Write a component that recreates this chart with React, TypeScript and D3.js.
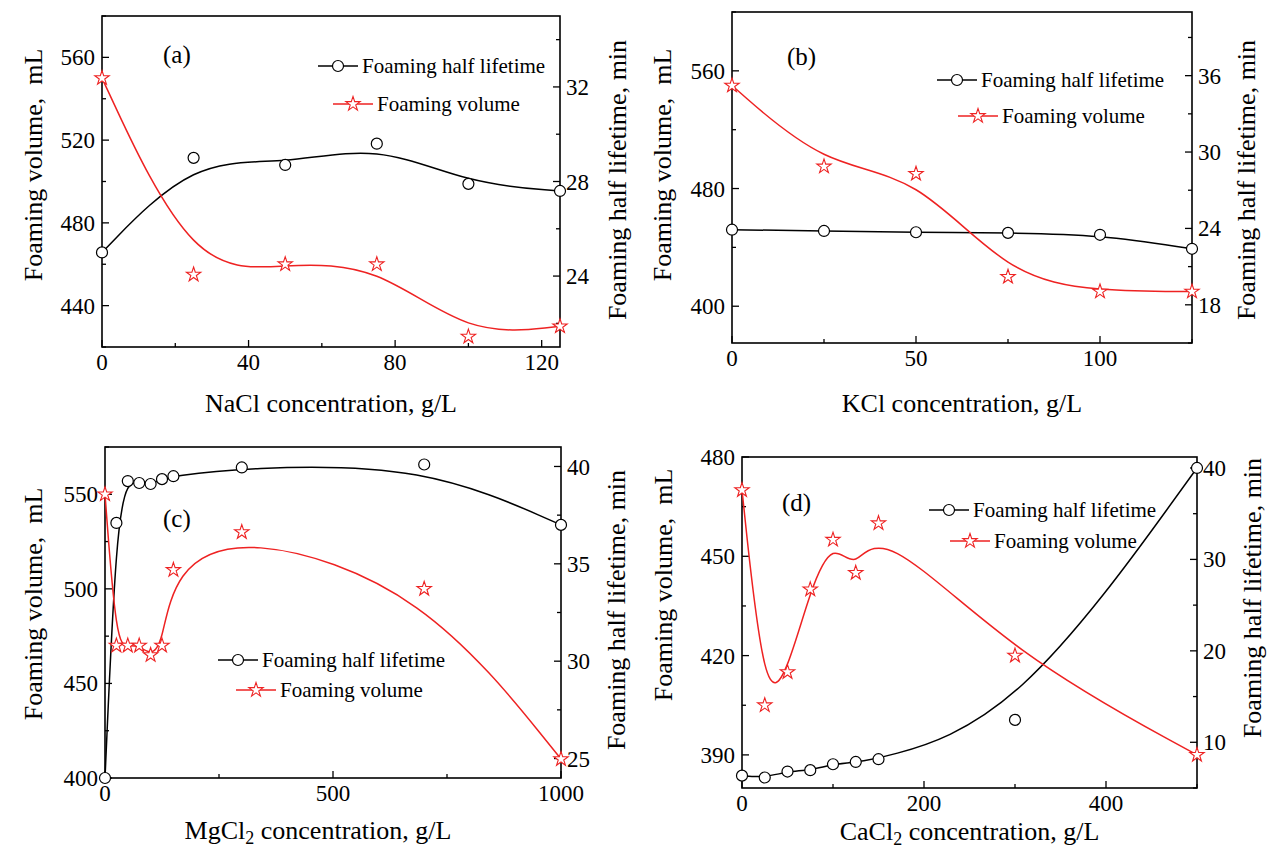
import React from 'react';
import * as d3 from 'd3';

// concentrations (g/L), half lifetime (min), foaming volume (mL)
const naclConc = [0, 25, 50, 75, 100, 125];
const naclHalfLife = [25.0, 29.0, 28.7, 29.6, 27.9, 27.6];
const naclVolume = [550, 455, 460, 460, 425, 430];

const kclConc = [0, 25, 50, 75, 100, 125];
const kclHalfLife = [23.9, 23.8, 23.7, 23.65, 23.5, 22.4];
const kclVolume = [550, 495, 490, 420, 410, 410];

const mgclConc = [0, 25, 50, 75, 100, 125, 150, 300, 700, 1000];
const mgclHalfLife = [24, 37.1, 39.25, 39.15, 39.1, 39.35, 39.5, 39.95, 40.1, 37];
const mgclVolume = [550, 470, 470, 470, 465, 470, 510, 530, 500, 410];

const caclConc = [0, 25, 50, 75, 100, 125, 150, 300, 500];
const caclHalfLife = [6.35, 6.15, 6.8, 6.95, 7.6, 7.85, 8.15, 12.45, 40];
const caclVolume = [470, 405, 415, 440, 455, 445, 460, 420, 390];

// tick labels
const naclXTicks = [0, 40, 80, 120];
const naclLeftTicks = [440, 480, 520, 560];
const naclRightTicks = [24, 28, 32];
const kclXTicks = [0, 50, 100];
const kclLeftTicks = [400, 480, 560];
const kclRightTicks = [18, 24, 30, 36];
const mgclXTicks = [0, 500, 1000];
const mgclLeftTicks = [400, 450, 500, 550];
const mgclRightTicks = [25, 30, 35, 40];
const caclXTicks = [0, 200, 400];
const caclLeftTicks = [390, 420, 450, 480];
const caclRightTicks = [10, 20, 30, 40];

const FONT = 'Liberation Serif, Times New Roman, Times, DejaVu Serif, serif';
const RED = '#ee2222';

const panels = [
  {
    label: '(a)', labelPos: [163, 63],
    frame: { x0: 102, x1: 560, y0: 16, y1: 347 },
    conc: naclConc, half: naclHalfLife, vol: naclVolume,
    xDomain: [0, 125], leftDomain: [420, 580], rightDomain: [21, 35],
    xTicks: naclXTicks, xMinor: 20, leftTicks: naclLeftTicks, leftMinor: 20, rightTicks: naclRightTicks, rightMinor: 2,
    salt: 'NaCl', sub: '', xTitleY: 412, xTitleDx: 0,
    leftTitleY: 165, rightTitleY: 180, leftTitleX: 33, rightTitleX: 617,
    legend: [318, 66, 333, 104],
  },
  {
    label: '(b)', labelPos: [787, 65],
    frame: { x0: 732, x1: 1192, y0: 12, y1: 343 },
    conc: kclConc, half: kclHalfLife, vol: kclVolume,
    xDomain: [0, 125], leftDomain: [375, 600], rightDomain: [15, 41],
    xTicks: kclXTicks, xMinor: 25, leftTicks: kclLeftTicks, leftMinor: 40, rightTicks: kclRightTicks, rightMinor: 3,
    salt: 'KCl', sub: '', xTitleY: 412, xTitleDx: 0,
    leftTitleY: 165, rightTitleY: 180, leftTitleX: 662, rightTitleX: 1246,
    legend: [937, 80, 958, 116],
  },
  {
    label: '(c)', labelPos: [163, 527],
    frame: { x0: 105, x1: 561, y0: 447, y1: 778 },
    conc: mgclConc, half: mgclHalfLife, vol: mgclVolume,
    xDomain: [0, 1000], leftDomain: [400, 575], rightDomain: [24, 41],
    xTicks: mgclXTicks, xMinor: 250, leftTicks: mgclLeftTicks, leftMinor: 25, rightTicks: mgclRightTicks, rightMinor: 2.5,
    salt: 'MgCl', sub: '2', xTitleY: 839, xTitleDx: -15,
    leftTitleY: 604, rightTitleY: 610, leftTitleX: 33, rightTitleX: 616,
    legend: [218, 660, 236, 690],
  },
  {
    label: '(d)', labelPos: [782, 511],
    frame: { x0: 742, x1: 1197, y0: 457, y1: 788 },
    conc: caclConc, half: caclHalfLife, vol: caclVolume,
    xDomain: [0, 500], leftDomain: [380, 480], rightDomain: [5, 41.2],
    xTicks: caclXTicks, xMinor: 100, leftTicks: caclLeftTicks, leftMinor: 15, rightTicks: caclRightTicks, rightMinor: 5,
    salt: 'CaCl', sub: '2', xTitleY: 840, xTitleDx: 0,
    leftTitleY: 585, rightTitleY: 598, leftTitleX: 663, rightTitleX: 1252,
    legend: [929, 510, 950, 541],
  },
];

const starPath = d3.symbol().type(d3.symbolStar).size(64)() as string;

function minorTicks(domain: number[], step: number, major: number[]) {
  const out: number[] = [];
  const start = Math.ceil(domain[0] / step) * step;
  for (let v = start; v <= domain[1] + 1e-9; v += step) {
    if (!major.some(m => Math.abs(m - v) < 1e-9)) out.push(v);
  }
  return out;
}

function Panel({ p }: { p: any }) {
  const { x0, x1, y0, y1 } = p.frame;
  const x = d3.scaleLinear().domain(p.xDomain).range([x0, x1]);
  const yL = d3.scaleLinear().domain(p.leftDomain).range([y1, y0]);
  const yR = d3.scaleLinear().domain(p.rightDomain).range([y1, y0]);

  const halfLine = d3.line<number>()
    .x((_, i) => x(p.conc[i]))
    .y(d => yR(d))
    .curve(d3.curveBasis)(p.half);
  const volLine = d3.line<number>()
    .x((_, i) => x(p.conc[i]))
    .y(d => yL(d))
    .curve(d3.curveBasis)(p.vol);

  const xMinor = minorTicks(p.xDomain, p.xMinor, p.xTicks);
  const lMinor = minorTicks(p.leftDomain, p.leftMinor, p.leftTicks);
  const rMinor = minorTicks(p.rightDomain, p.rightMinor, p.rightTicks);
  const [l1x, l1y, l2x, l2y] = p.legend;

  return (
    <g style={{ fontFamily: FONT }}>
      {/* ticks, inward */}
      <g stroke="#000" strokeWidth={1.3}>
        {p.xTicks.map((t: number) => <line key={'xt' + t} x1={x(t)} x2={x(t)} y1={y1} y2={y1 - 7} />)}
        {xMinor.map((t: number) => <line key={'xm' + t} x1={x(t)} x2={x(t)} y1={y1} y2={y1 - 4} />)}
        {p.leftTicks.map((t: number) => <line key={'lt' + t} x1={x0} x2={x0 + 7} y1={yL(t)} y2={yL(t)} />)}
        {lMinor.map((t: number) => <line key={'lm' + t} x1={x0} x2={x0 + 4} y1={yL(t)} y2={yL(t)} />)}
        {p.rightTicks.map((t: number) => <line key={'rt' + t} x1={x1} x2={x1 - 7} y1={yR(t)} y2={yR(t)} />)}
        {rMinor.map((t: number) => <line key={'rm' + t} x1={x1} x2={x1 - 4} y1={yR(t)} y2={yR(t)} />)}
      </g>
      <rect x={x0} y={y0} width={x1 - x0} height={y1 - y0} fill="none" stroke="#000" strokeWidth={1.6} />

      {/* tick labels */}
      <g fontSize={23} fill="#000">
        {p.xTicks.map((t: number) => (
          <text key={'xl' + t} x={x(t)} y={y1 + 23} textAnchor="middle">{t}</text>
        ))}
        {p.leftTicks.map((t: number) => (
          <text key={'ll' + t} x={x0 - 7} y={yL(t)} dy="0.35em" textAnchor="end">{t}</text>
        ))}
        {p.rightTicks.map((t: number) => (
          <text key={'rl' + t} x={x1 + 6} y={yR(t)} dy="0.35em" textAnchor="start">{t}</text>
        ))}
      </g>

      {/* axis titles */}
      <text x={(x0 + x1) / 2 + p.xTitleDx} y={p.xTitleY} fontSize={26} textAnchor="middle">
        {p.salt}
        {p.sub ? <tspan dy={5} fontSize={18}>{p.sub}</tspan> : null}
        {p.sub ? <tspan dy={-5}> concentration, g/L</tspan> : ' concentration, g/L'}
      </text>
      <text transform={`translate(${p.leftTitleX},${p.leftTitleY}) rotate(-90)`} fontSize={26}
        textAnchor="middle" dy="0.35em" style={{ whiteSpace: 'pre' }}>{'Foaming volume,  mL'}</text>
      <text transform={`translate(${p.rightTitleX},${p.rightTitleY}) rotate(-90)`} fontSize={26}
        textAnchor="middle" dy="0.35em">Foaming half lifetime, min</text>

      {/* panel label */}
      <text x={p.labelPos[0]} y={p.labelPos[1]} fontSize={25}>{p.label}</text>

      {/* curves */}
      <path d={halfLine || ''} fill="none" stroke="#000" strokeWidth={1.5} />
      <path d={volLine || ''} fill="none" stroke={RED} strokeWidth={1.5} />

      {/* markers */}
      {p.half.map((v: number, i: number) => (
        <circle key={'c' + i} cx={x(p.conc[i])} cy={yR(v)} r={5.5} fill="#fff" stroke="#000" strokeWidth={1.2} />
      ))}
      {p.vol.map((v: number, i: number) => (
        <path key={'s' + i} d={starPath} transform={`translate(${x(p.conc[i])},${yL(v)})`}
          fill="#fff" stroke={RED} strokeWidth={1.1} />
      ))}

      {/* legend */}
      <line x1={l1x} x2={l1x + 40} y1={l1y} y2={l1y} stroke="#000" strokeWidth={1.5} />
      <circle cx={l1x + 20} cy={l1y} r={5.5} fill="#fff" stroke="#000" strokeWidth={1.2} />
      <text x={l1x + 44} y={l1y} dy="0.33em" fontSize={21}>Foaming half lifetime</text>
      <line x1={l2x} x2={l2x + 40} y1={l2y} y2={l2y} stroke={RED} strokeWidth={1.5} />
      <path d={starPath} transform={`translate(${l2x + 20},${l2y})`} fill="#fff" stroke={RED} strokeWidth={1.1} />
      <text x={l2x + 44} y={l2y} dy="0.33em" fontSize={21}>Foaming volume</text>
    </g>
  );
}

export default function App() {
  return (
    <svg width={1270} height={849} style={{ position: 'absolute', left: 0, top: 0, background: '#fff', fontFamily: FONT }}>
      <rect width={1270} height={849} fill="#fff" />
      {panels.map(p => <Panel key={p.label} p={p} />)}
    </svg>
  );
}
